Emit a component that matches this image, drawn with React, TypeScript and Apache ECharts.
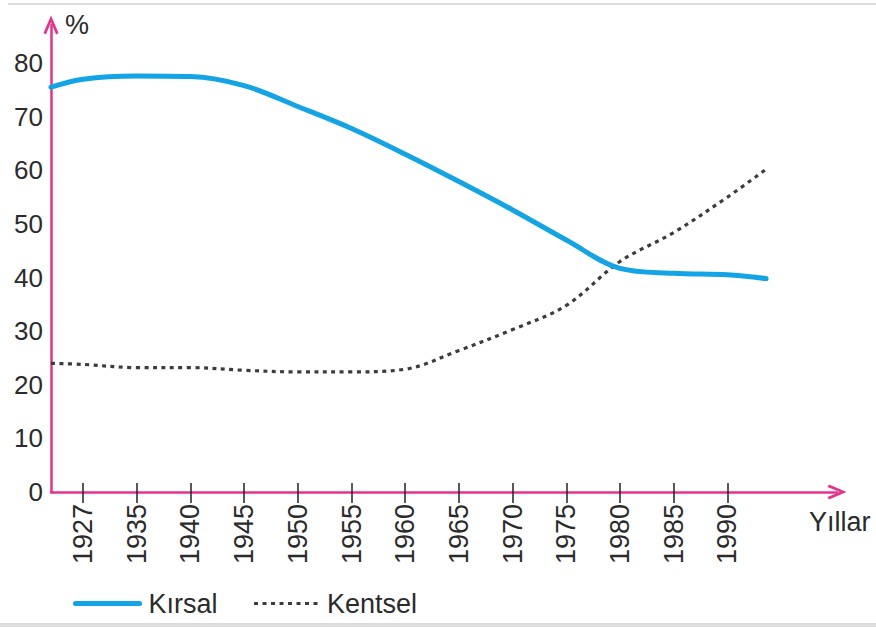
import React, { useEffect, useRef } from "react";
import * as echarts from "echarts";

// Categories (equally spaced on the axis)
const years = ["1927", "1935", "1940", "1945", "1950", "1955", "1960", "1965", "1970", "1975", "1980", "1985", "1990"];
// Values at each year (%)
const kirsal = [77.0, 77.6, 77.5, 75.8, 71.9, 67.8, 63.0, 57.9, 52.6, 47.0, 41.7, 40.8, 40.5];
const kentsel = [23.8, 23.2, 23.2, 22.7, 22.4, 22.4, 22.9, 26.4, 30.3, 34.8, 43.0, 48.4, 55.0];
// Values where the curves start (at the y axis) and end (past 1990)
const kirsalStartEnd = [75.5, 39.8];
const kentselStartEnd = [24.0, 60.2];
// Category-index positions of the axis start, curve end and axis end
const axisStartIdx = -0.596;
const curveEndIdx = 12.72;
const axisEndIdx = 14.04;
const yTicks = [0, 10, 20, 30, 40, 50, 60, 70, 80];
const yMax = 87.1;

const FONT = "'Liberation Sans', Arial, Helvetica, sans-serif";
const PINK = "#e5338c";
const BLUE = "#12a4e4";
const GREY = "#3c3c3c";

function build(vals: number[], se: number[]) {
  const out: number[][] = [[axisStartIdx, se[0]]];
  vals.forEach((v, i) => out.push([i, v]));
  out.push([curveEndIdx, se[1]]);
  return out;
}

const chevron = "path://M0,17.5 L7.5,0 L15,17.5 L12.6,19 L7.5,6.8 L2.4,19 Z";

export default function App() {
  const ref = useRef<HTMLDivElement>(null);
  useEffect(() => {
    if (!ref.current) return;
    const chart = echarts.init(ref.current, null, { renderer: "svg" });
    const tickIdx = years.map((_, i) => i);
    chart.setOption({
      animation: false,
      backgroundColor: "#ffffff",
      textStyle: { fontFamily: FONT },
      grid: { left: 51, right: 39, top: 25, bottom: 136, containLabel: false },
      legend: {
        left: 73,
        top: 590,
        padding: 0,
        itemWidth: 64,
        itemHeight: 14,
        itemGap: 35,
        itemStyle: { opacity: 0 },
        textStyle: { fontFamily: FONT, fontSize: 27, color: "#2b2b2b", padding: [0, 0, 0, 4] },
        data: [
          { name: "Kırsal", lineStyle: { width: 5, color: BLUE } },
          { name: "Kentsel", lineStyle: { width: 3, color: GREY, type: [4, 4.5] } },
        ],
      },
      xAxis: [
        {
          type: "value",
          min: axisStartIdx,
          max: axisEndIdx,
          name: "Yıllar",
          nameLocation: "end",
          nameGap: -28,
          nameTextStyle: { fontFamily: FONT, fontSize: 27, color: "#2b2b2b", align: "left", verticalAlign: "top", padding: [16, 0, 0, 0] },
          axisLine: { show: true, onZero: false, symbol: ["none", chevron], symbolSize: [15, 20], lineStyle: { color: PINK, width: 2.5 } },
          axisTick: { show: true, customValues: tickIdx, length: 11, inside: false, lineStyle: { color: "#222", width: 1.5 } },
          axisLabel: {
            customValues: tickIdx,
            rotate: 90,
            margin: 12,
            fontFamily: FONT,
            fontSize: 27,
            color: "#2b2b2b",
            formatter: (v: number) => years[Math.round(v)] ?? "",
          },
          splitLine: { show: false },
        },
        {
          type: "value",
          min: axisStartIdx,
          max: axisEndIdx,
          position: "bottom",
          offset: 0,
          axisLine: { show: false, onZero: false },
          axisTick: { show: true, customValues: tickIdx, length: 9, inside: true, lineStyle: { color: "#222", width: 1.5 } },
          axisLabel: { show: false },
          splitLine: { show: false },
        },
      ],
      yAxis: {
        type: "value",
        min: 0,
        max: yMax,
        name: "%",
        nameLocation: "end",
        nameGap: 0,
        nameTextStyle: { fontFamily: FONT, fontSize: 27, color: "#2b2b2b", align: "left", verticalAlign: "middle", padding: [0, 0, 0, 14] },
        axisLine: { show: true, onZero: false, symbol: ["none", chevron], symbolSize: [15, 20], lineStyle: { color: PINK, width: 2.5 } },
        axisTick: { show: false },
        axisLabel: { customValues: yTicks, margin: 8, fontFamily: FONT, fontSize: 26, color: "#2b2b2b" },
        splitLine: { show: false },
      },
      graphic: [
        { type: "line", shape: { x1: 8, y1: 4, x2: 876, y2: 4 }, style: { stroke: "#dddddd", lineWidth: 2 } },
        { type: "line", shape: { x1: 0, y1: 625, x2: 876, y2: 625 }, style: { stroke: "#dddddd", lineWidth: 4 } },
      ],
      series: [
        {
          name: "Kırsal",
          type: "line",
          data: build(kirsal, kirsalStartEnd),
          smooth: 0.35,
          showSymbol: false,
          symbol: "none",
          lineStyle: { color: BLUE, width: 5, cap: "round" },
          itemStyle: { color: BLUE },
          z: 3,
        },
        {
          name: "Kentsel",
          type: "line",
          data: build(kentsel, kentselStartEnd),
          smooth: 0.35,
          showSymbol: false,
          symbol: "none",
          lineStyle: { color: GREY, width: 3.2, type: [4, 4.5] },
          itemStyle: { color: GREY },
          z: 2,
        },
      ],
    });
    return () => chart.dispose();
  }, []);
  return <div ref={ref} style={{ position: "fixed", left: 0, top: 0, width: 876, height: 628 }} />;
}
